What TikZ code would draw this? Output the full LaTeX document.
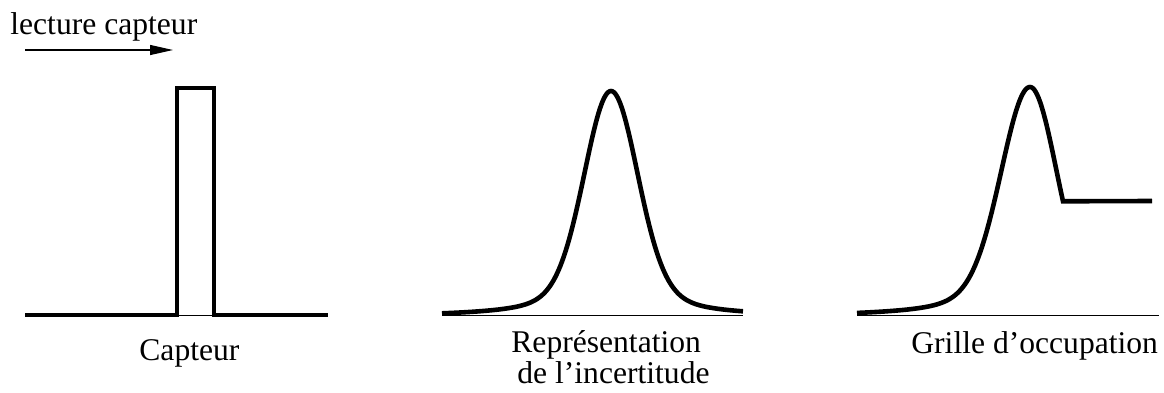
\documentclass[tikz,border=0pt]{standalone}
\usepackage{fontspec}
\setmainfont{Liberation Serif}
\usetikzlibrary{arrows.meta}
\tikzset{
  thickcurve/.style={line width=2.3pt, line join=miter},
  thinbase/.style={line width=0.5pt},
  lbl/.style={inner sep=0pt, anchor=base west, font=\fontsize{15.8}{15.8}\selectfont},
  readarrow/.style={line width=0.6pt, -{Triangle[length=11.5pt,width=5pt]}},
  declare function={
    bump(\d)=0.75*exp(((\d/10)^2)/(-14)) + 0.25/(1+((\d/10)^2)/18.8);
  }
}
\begin{document}
\begin{tikzpicture}[x=0.5pt, y=-0.5pt]
\useasboundingbox (0,0) rectangle (1164,392);
% heading and arrow
\node[lbl] (lect) at (10,34) {lecture capteur};
\coordinate (arA) at (25,50);
\coordinate (arB) at (173,50);
\draw[readarrow] (arA) -- (arB);
% panel 1 : capteur
\draw[thinbase] (25,315) -- (328,315);
\draw[thickcurve] (25,315) -- (177,315) -- (177,88) -- (214,88) -- (214,315) -- (328,315);
\node[lbl] (capt) at (139,360) {Capteur};
% panel 2 : representation de l'incertitude
\draw[thinbase] (442,315) -- (743,315);
\draw[thickcurve] plot[domain=442:743, samples=220, smooth]
  (\x, {315 - 224*(bump(\x-611) - 0.008)/0.992});
\node[lbl] (rep1) at (511,352) {Représentation};
\node[lbl] (rep2) at (517,383) {de l’incertitude};
% panel 3 : grille d'occupation
\draw[thinbase] (857,315) -- (1159,315);
\draw[thickcurve] plot[domain=857:1030, samples=160, smooth]
  (\x, {315 - 228*(bump((\x-1030)/1.08) - 0.008)/0.992})
  -- plot[domain=1030:1063, samples=40, smooth]
  (\x, {315 - 228*(bump(\x-1030) - 0.008)/0.992})
  -- (1152,201);
\node[lbl] (grille) at (911,353) {Grille d’occupation};
\end{tikzpicture}
\end{document}
